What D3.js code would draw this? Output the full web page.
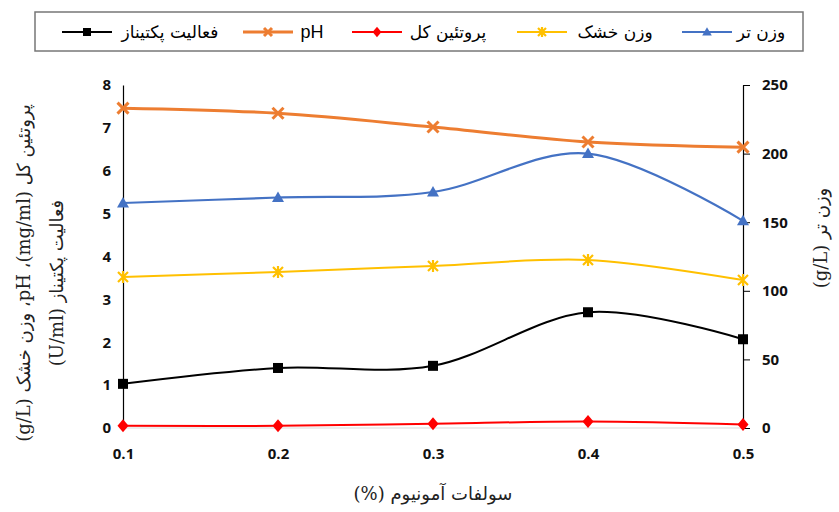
<!DOCTYPE html>
<html><head><meta charset="utf-8">
<script src="https://cdn.jsdelivr.net/npm/d3@7"></script>
<style>
body{margin:0;background:#fff;}
svg{display:block;}
</style></head>
<body><svg id="c" width="839" height="512"></svg>
<script>
const categories = [0.1, 0.2, 0.3, 0.4, 0.5];
const pectinase = [1.03, 1.40, 1.45, 2.70, 2.07];
const pH = [7.46, 7.34, 7.02, 6.67, 6.55];
const protein = [0.05, 0.05, 0.10, 0.15, 0.08];
const dryWeight = [3.52, 3.64, 3.78, 3.92, 3.45];
const wetWeight = [164, 168, 172, 200, 151];
const leftTicks = [0,1,2,3,4,5,6,7,8];
const rightTicks = [0,50,100,150,200,250];
const xTickLabels = ["0.1","0.2","0.3","0.4","0.5"];
const legendNames = ["فعالیت پکتیناز","pH","پروتئین کل","وزن خشک","وزن تر"];
const xTitle = "سولفات آمونیوم (%)";
const yLeftTitle1 = "پروتئین کل (mg/ml)، pH، وزن خشک (g/L)";
const yLeftTitle2 = "فعالیت پکتیناز (U/ml)";
const yRightTitle = "وزن تر (g/L)";

const svg = d3.select("#c");
const L = 123, R = 743, T = 85, B = 428;
const x = d3.scalePoint().domain(categories).range([L, R]);
const yL = d3.scaleLinear().domain([0, 8]).range([B, T]);
const yR = d3.scaleLinear().domain([0, 250]).range([B, T]);

const tickFont = "'Open Sans', 'Liberation Sans', sans-serif";
const arFont = "'DejaVu Serif', 'Liberation Serif', 'DejaVu Sans', serif";

svg.append("line").attr("x1", L).attr("x2", R).attr("y1", B).attr("y2", B)
  .attr("stroke", "#d9d9d9").attr("stroke-width", 1);

const gl = svg.append("g").attr("transform", `translate(${L},0)`)
  .call(d3.axisLeft(yL).tickValues(leftTicks).tickSize(0).tickPadding(12).tickFormat(d3.format("d")));
gl.select(".domain").attr("stroke", "#000").attr("stroke-width", 1.2);
gl.selectAll("text").attr("font-family", tickFont).attr("font-weight", "bold").attr("font-size", 15).attr("fill", "#111");

const gr = svg.append("g").attr("transform", `translate(${R},0)`)
  .call(d3.axisRight(yR).tickValues(rightTicks).tickSize(7).tickSizeOuter(0).tickPadding(12).tickFormat(d3.format("d")));
gr.select(".domain").attr("stroke", "#000").attr("stroke-width", 1.2);
gr.selectAll(".tick line").attr("stroke", "#000").attr("stroke-width", 1);
gr.selectAll("text").attr("font-family", tickFont).attr("font-weight", "bold").attr("font-size", 15).attr("fill", "#111");

const gb = svg.append("g").attr("transform", `translate(0,${B})`)
  .call(d3.axisBottom(x).tickSize(0).tickPadding(20).tickFormat((d,i)=>xTickLabels[i]));
gb.select(".domain").remove();
gb.selectAll("text").attr("font-family", tickFont).attr("font-weight", "bold").attr("font-size", 15).attr("fill", "#111");

const series = [
  {name: legendNames[0], vals: pectinase, y: yL, color: "#000000", marker: "square", w: 2},
  {name: legendNames[1], vals: pH, y: yL, color: "#ED7D31", marker: "x", w: 3},
  {name: legendNames[2], vals: protein, y: yL, color: "#FF0000", marker: "diamond", w: 2},
  {name: legendNames[3], vals: dryWeight, y: yL, color: "#FFC000", marker: "asterisk", w: 2},
  {name: legendNames[4], vals: wetWeight, y: yR, color: "#4472C4", marker: "triangle", w: 2.2}
];

function drawMarker(g, type, cx, cy, color, s) {
  if (type === "square") {
    g.append("rect").attr("x", cx - s/2).attr("y", cy - s/2).attr("width", s).attr("height", s).attr("fill", color);
  } else if (type === "diamond") {
    g.append("path").attr("d", `M${cx},${cy - s*0.65}L${cx + s*0.55},${cy}L${cx},${cy + s*0.65}L${cx - s*0.55},${cy}Z`).attr("fill", color);
  } else if (type === "triangle") {
    g.append("path").attr("d", `M${cx},${cy - s*0.6}L${cx + s*0.6},${cy + s*0.45}L${cx - s*0.6},${cy + s*0.45}Z`).attr("fill", color);
  } else if (type === "x") {
    const h = s/2;
    g.append("path").attr("d", `M${cx-h},${cy-h}L${cx+h},${cy+h}M${cx-h},${cy+h}L${cx+h},${cy-h}`)
      .attr("stroke", color).attr("stroke-width", 3).attr("fill", "none");
  } else if (type === "asterisk") {
    const h = s/2;
    g.append("path").attr("d", `M${cx-h},${cy-h}L${cx+h},${cy+h}M${cx-h},${cy+h}L${cx+h},${cy-h}M${cx},${cy-h-1}L${cx},${cy+h+1}`)
      .attr("stroke", color).attr("stroke-width", 2.2).attr("fill", "none");
  }
}

const plot = svg.append("g");
series.forEach(s => {
  const line = d3.line().x((d,i)=>x(categories[i])).y(d=>s.y(d)).curve(d3.curveCardinal.tension(0));
  plot.append("path").attr("d", line(s.vals)).attr("fill", "none").attr("stroke", s.color).attr("stroke-width", s.w);
});
series.forEach(s => {
  const g = plot.append("g");
  s.vals.forEach((v,i) => drawMarker(g, s.marker, x(categories[i]), s.y(v), s.color, s.marker === "x" ? 11 : 10));
});

svg.append("rect").attr("x", 35).attr("y", 12).attr("width", 768).attr("height", 39)
  .attr("fill", "#fff").attr("stroke", "#777").attr("stroke-width", 1.5);
const legendLineX = [62, 243, 352, 517, 682];
const legendTextMid = [170, 312, 448, 615, 761];
const ly = 32;
series.forEach((s, i) => {
  const g = svg.append("g");
  g.append("line").attr("x1", legendLineX[i]).attr("x2", legendLineX[i] + 50).attr("y1", ly).attr("y2", ly)
    .attr("stroke", s.color).attr("stroke-width", s.w);
  drawMarker(g, s.marker, legendLineX[i] + 25, ly, s.color, 8);
  g.append("text").attr("x", legendTextMid[i]).attr("y", ly + 6)
    .attr("font-family", i === 1 ? "'Liberation Sans', sans-serif" : arFont)
    .attr("font-size", i === 1 ? 18 : 17).attr("fill", "#000")
    .attr("text-anchor", "middle").attr("direction", "rtl").attr("unicode-bidi", "embed")
    .text(s.name);
});

function title(tr, txt) {
  svg.append("text").attr("transform", tr).attr("text-anchor", "middle")
    .attr("direction", "rtl").attr("unicode-bidi", "embed")
    .attr("font-family", arFont).attr("font-size", 18).attr("fill", "#222").text(txt);
}
title("translate(433,500)", xTitle);
title("translate(30,273) rotate(-90)", yLeftTitle1);
title("translate(63,283) rotate(-90)", yLeftTitle2);
title("translate(827,238) rotate(-90)", yRightTitle);
</script></body></html>
